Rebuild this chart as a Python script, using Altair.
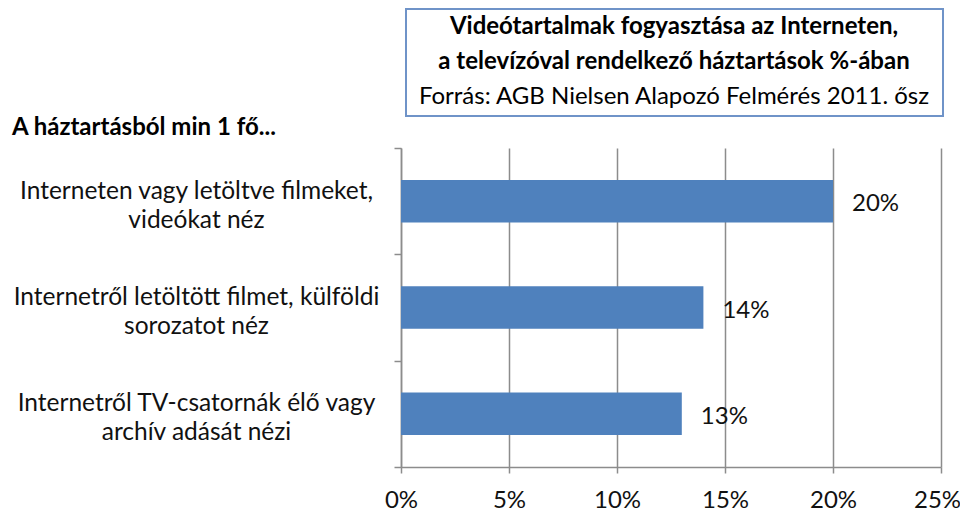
import altair as alt
import pandas as pd

categories = [
    "Interneten vagy letöltve filmeket,|videókat néz",
    "Internetről letöltött filmet, külföldi|sorozatot néz",
    "Internetről TV-csatornák élő vagy|archív adását nézi",
]
values = [0.20, 0.14, 0.13]
title_lines = [
    "Videótartalmak fogyasztása az Interneten,",
    "a televízóval rendelkező háztartások %-ában",
]
source_line = "Forrás: AGB Nielsen Alapozó Felmérés 2011. ősz"
subtitle = "A háztartásból min 1 fő..."

FONT = "Lato"
FS = 24
W, H = 540, 319

df = pd.DataFrame({"cat": categories, "val": values})

y_enc = alt.Y(
    "cat:N",
    sort=categories,
    title=None,
    scale=alt.Scale(paddingInner=0, paddingOuter=0),
    axis=alt.Axis(
        tickBand="extent",
        labelExpr="split(datum.label, '|')",
        labelAlign="center",
        labelBaseline="middle",
        labelPadding=198,
        labelOffset=-10,
        labelFontSize=24.5,
        labelLineHeight=29,
        labelFont=FONT,
        labelColor="#111111",
        labelLimit=500,
        domainColor="#8c8c8c",
        domainWidth=1.5,
        tickColor="#8c8c8c",
        tickWidth=1.5,
        tickSize=7,
        grid=False,
    ),
)

x_enc = alt.X(
    "val:Q",
    title=None,
    scale=alt.Scale(domain=[0, 0.25], nice=False),
    axis=alt.Axis(
        values=[0, 0.05, 0.10, 0.15, 0.20, 0.25],
        format=".0%",
        labelFontSize=FS,
        labelFont=FONT,
        labelColor="#111111",
        labelPadding=15,
        labelFlush=False,
        labelOffset={"condition": {"test": "datum.value >= 0.249", "value": -4}, "value": 0},
        domainColor="#8c8c8c",
        domainWidth=1.5,
        tickColor="#8c8c8c",
        tickWidth=1.5,
        tickSize=6,
        grid=True,
        gridColor="#8c8c8c",
        gridWidth=1.5,
    ),
)

bars = alt.Chart(df).mark_bar(
    color="#4F81BD", height=alt.RelativeBandSize(0.4)
).encode(x=x_enc, y=y_enc)

labels = alt.Chart(df).mark_text(
    align="left", baseline="middle", dx=19, dy=3, fontSize=FS, font=FONT, color="#111111"
).encode(x="val:Q", y=alt.Y("cat:N", sort=categories), text=alt.Text("val:Q", format=".0%"))

one = pd.DataFrame({"k": [0]})

box = alt.Chart(one).mark_rect(
    fill="white", stroke="#6f93c8", strokeWidth=2
).encode(x=alt.value(5), x2=alt.value(542), y=alt.value(-139), y2=alt.value(-32))

t1 = alt.Chart(one).mark_text(
    fontSize=FS, font=FONT, fontWeight="bold", color="#000000", align="center", baseline="middle"
).encode(x=alt.value(273), y=alt.value(-121), text=alt.value(title_lines[0]))
t2 = alt.Chart(one).mark_text(
    fontSize=FS, font=FONT, fontWeight="bold", color="#000000", align="center", baseline="middle"
).encode(x=alt.value(273), y=alt.value(-86), text=alt.value(title_lines[1]))
t3 = alt.Chart(one).mark_text(
    fontSize=FS, font=FONT, color="#000000", align="center", baseline="middle"
).encode(x=alt.value(273), y=alt.value(-51), text=alt.value(source_line))

sub = alt.Chart(one).mark_text(
    fontSize=FS, font=FONT, fontWeight="bold", color="#000000", align="left", baseline="middle"
).encode(x=alt.value(-389), y=alt.value(-20), text=alt.value(subtitle))

chart = alt.layer(bars, labels, box, t1, t2, t3, sub).properties(
    width=W,
    height=H,
    autosize=alt.AutoSizeParams(type="none"),
    padding={"left": 393, "top": 140, "right": 19, "bottom": 46},
).configure_view(stroke=None)

chart.save("out.html", embed_options={"renderer": "svg", "actions": False})
